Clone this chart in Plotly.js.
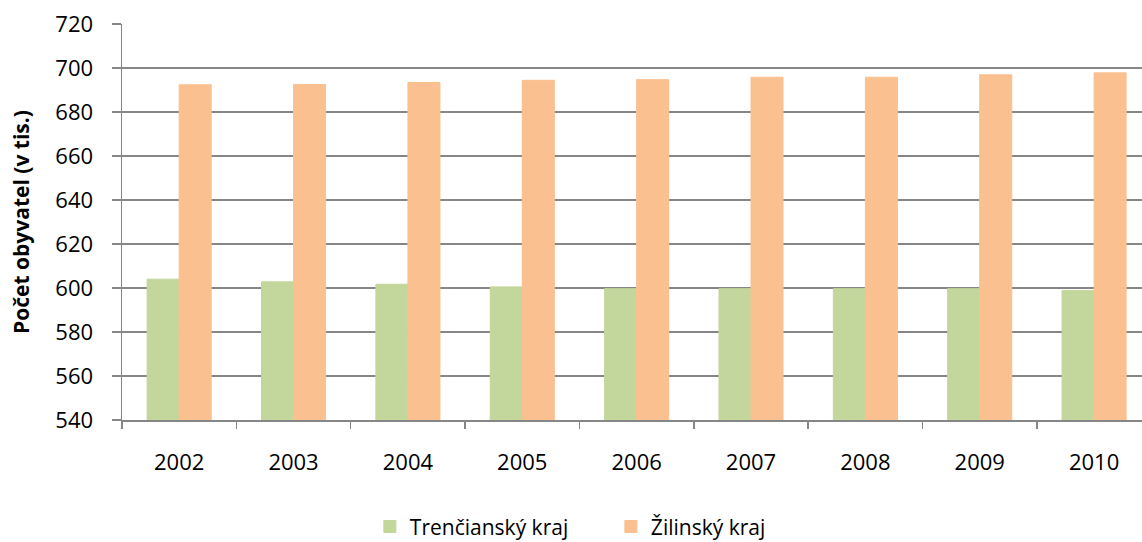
<!DOCTYPE html>
<html>
<head>
<meta charset="utf-8">
<script src="https://cdn.plot.ly/plotly-3.0.1.min.js"></script>
<style>html,body{margin:0;padding:0;background:#fff}#chart{width:1142px;height:542px}</style>
</head>
<body>
<div id="chart"></div>
<script>
var years = ["2002","2003","2004","2005","2006","2007","2008","2009","2010"];
var trencin = [604.0, 602.8, 601.7, 600.5, 599.7, 599.7, 599.7, 599.7, 598.8];
var zilina = [692.4, 692.5, 693.4, 694.4, 694.7, 695.8, 695.8, 696.9, 697.8];
var seriesNames = ["Trenčianský kraj", "Žilinský kraj"];
var yTitle = "Počet obyvatel (v tis.)";

var font = "'Open Sans', sans-serif";
var green = "#c3d69b", orange = "#fac08f";
var traces = [
  {type:"bar", x:years, y:trencin, name:seriesNames[0], marker:{color:green, line:{color:green, width:1}}},
  {type:"bar", x:years, y:zilina, name:seriesNames[1], marker:{color:orange, line:{color:orange, width:1}}}
];
var layout = {
  width:1142, height:542,
  margin:{l:122, r:0, t:24, b:122, autoexpand:false},
  paper_bgcolor:"#fff", plot_bgcolor:"#fff",
  barmode:"group", bargap:0.44, bargroupgap:0,
  font:{family:font, size:22, color:"#000"},
  showlegend:true,
  legend:{orientation:"h", x:0.243, xanchor:"left", y:-0.218, yanchor:"top", font:{size:21}, itemwidth:30, entrywidth:196, entrywidthmode:"pixels", tracegroupgap:0},
  xaxis:{type:"category", range:[-0.5, 8.419], showgrid:false, showline:true, linecolor:"#868686", linewidth:1.5,
         ticks:"outside", ticklen:7, tickcolor:"#868686", tickwidth:1.5, tickson:"boundaries", ticklabelstandoff:22, fixedrange:true},
  yaxis:{range:[540,720], dtick:20, showgrid:true, gridcolor:"#868686", gridwidth:1.5, showline:true, linecolor:"#868686", linewidth:1.5,
         ticks:"outside", ticklen:9, tickcolor:"#868686", tickwidth:1.5, zeroline:false, ticklabelstandoff:14,
         title:{text:yTitle, font:{size:21, family:font, weight:"bold"}, standoff:20}}
};
Plotly.newPlot("chart", traces, layout, {displayModeBar:false, staticPlot:true});
</script>
</body>
</html>
